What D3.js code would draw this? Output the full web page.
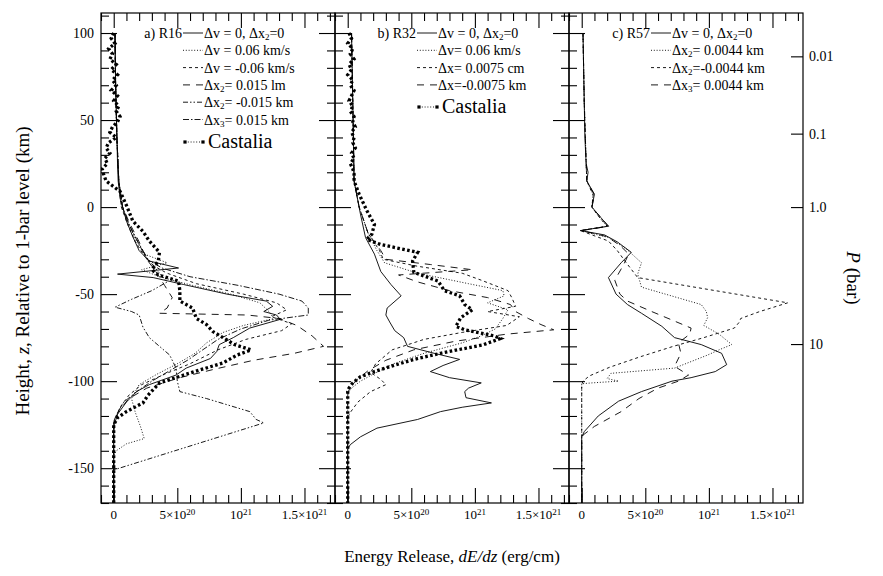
<!DOCTYPE html>
<html><head><meta charset="utf-8">
<script src="https://cdn.jsdelivr.net/npm/d3@7"></script>
<style>
body{margin:0;background:#fff}
svg text{font-family:"Liberation Serif","Times New Roman",Times,serif;fill:#000}
</style>
</head><body>
<svg id="c" width="883" height="576" font-family="Liberation Serif, Times New Roman, serif"></svg>
<script>
// ---------------- DATA (values: 10^20 erg/cm, heights: km) ----------------
// each point is [height z (km), dE/dz (1e20 erg/cm)]
const r16_base = [[100,0.1],[85,0.12],[70,0.15],[55,0.2],[40,0.25],[25,0.3],[15,0.35],[5,0.5],[0,0.7],[-8,1.0],[-17,1.5],[-25,2.0],[-31,2.8],[-35,5.1],[-38.5,0.3],[-40.5,3.1],[-44.5,5.5],[-50,8.9],[-54,12.0],[-57,12.5],[-60,11.8],[-62,12.8],[-64.5,13.1],[-69.5,10.7],[-75,9.4],[-79,8.3],[-83,8.1],[-87,7.6],[-92.5,5.7],[-96.5,4.9],[-102,2.8],[-106,1.8],[-112,1.0],[-119,0.3],[-125,0.05],[-130,0],[-170,0]];
const r16_dvPlus = [[100,0.1],[70,0.15],[40,0.25],[15,0.4],[0,0.6],[-10,1.2],[-20,1.8],[-27,2.4],[-32,4.2],[-36,2.2],[-40,3.6],[-45,6.2],[-50,9.2],[-55,11.5],[-60,12.2],[-64,12.6],[-68,10.2],[-72,8.6],[-78,7.3],[-84,6.4],[-90,5.0],[-96,3.4],[-102,2.0],[-110,1.4],[-118,1.7],[-126,2.1],[-133,2.4],[-136,1.0],[-140,0.2],[-143,0],[-170,0]];
const r16_dvMinus = [[100,0.1],[70,0.15],[40,0.25],[15,0.4],[0,0.6],[-10,1.1],[-20,1.7],[-28,2.4],[-34,3.2],[-38,4.2],[-44,6.5],[-50,10.2],[-55,12.8],[-59,13.6],[-63,12.4],[-67,14.0],[-71,13.2],[-76,10.4],[-82,8.2],[-90,6.0],[-96,4.0],[-102,2.2],[-108,1.2],[-115,0.5],[-122,0.1],[-127,0],[-170,0]];
const r16_dx2Plus = [[100,0.1],[70,0.15],[40,0.25],[15,0.4],[0,0.7],[-10,1.3],[-20,2.0],[-30,2.6],[-38,3.4],[-45,4.0],[-52,4.6],[-58,4.2],[-61,3.6],[-62,10.5],[-64,13.0],[-68,14.4],[-74,15.6],[-80,16.5],[-84,14.2],[-88,11.0],[-93,8.0],[-98,5.2],[-104,2.6],[-110,1.2],[-117,0.4],[-124,0],[-170,0]];
const r16_dx2Minus = [[100,0.1],[70,0.15],[40,0.25],[15,0.4],[0,0.7],[-10,1.2],[-20,1.9],[-30,2.7],[-38,3.6],[-43,4.2],[-48,3.0],[-53,1.4],[-57.5,0.1],[-60,1.4],[-62,2.0],[-69,2.3],[-75,2.8],[-85,4.4],[-92.5,4.9],[-100,5.0],[-106,5.2],[-110,7.3],[-117.5,10.7],[-122,11.2],[-124,11.8],[-151,0],[-170,0]];
const r16_dx3Plus = [[100,0.1],[70,0.15],[40,0.25],[15,0.4],[0,0.7],[-10,1.2],[-20,1.9],[-30,2.6],[-35,3.8],[-40,6.0],[-45,9.8],[-50,13.0],[-54,14.8],[-58,15.3],[-62,15.3],[-65,12.2],[-70,10.0],[-76,8.2],[-82,7.0],[-88,5.8],[-94,4.4],[-100,3.0],[-106,1.8],[-112,0.8],[-118,0.3],[-123,0],[-170,0]];
const r16_castalia = [[100,0.0],[97,-0.2],[94,0.1],[91,-0.4],[88,-0.1],[85,-0.3],[82,0.2],[79,-0.2],[76,0.3],[73,-0.1],[70,0.2],[67,-0.2],[64,0.3],[61,0.0],[58,0.4],[55,0.2],[52,0.5],[49,0.3],[46,-0.1],[43,-0.3],[40,0.2],[37,-0.4],[34,-0.6],[31,-0.3],[28,-0.7],[25,-0.5],[22,-0.9],[19,-0.8],[15,-0.6],[9,0.5],[1,1.0],[-8,1.5],[-14,2.3],[-19.5,2.8],[-26,3.6],[-31,3.5],[-36,3.0],[-39,3.5],[-42.5,5.1],[-48,5.2],[-54,5.2],[-58,6.2],[-64,6.5],[-67.5,7.3],[-71.5,7.8],[-75,8.6],[-79,9.5],[-82,10.8],[-85,9.7],[-89.5,8.6],[-93.5,6.8],[-96.5,5.5],[-101,3.6],[-108,2.7],[-112.5,2.3],[-117.5,1.0],[-121,0.3],[-125,0],[-170,0]];

const r32_base = [[100,0.3],[80,0.35],[60,0.4],[40,0.45],[15,0.5],[-4,1.0],[-17.5,1.4],[-27,2.1],[-37,2.6],[-44.5,3.4],[-51,4.2],[-58,3.1],[-62,3.0],[-66,3.3],[-71,3.7],[-75,4.4],[-80,4.7],[-84,6.8],[-87.5,8.8],[-91,7.5],[-94.5,6.5],[-98,8.0],[-101,10.5],[-104,9.5],[-106,9.2],[-109.5,9.3],[-112.5,11.3],[-115,9.0],[-117.5,7.3],[-122,5.5],[-127,2.3],[-132,1.0],[-136.5,0.2],[-139,0],[-170,0]];
const r32_dvPlus = [[100,0.3],[60,0.4],[15,0.5],[0,0.9],[-15,1.6],[-25,2.3],[-32,2.9],[-38,5.5],[-44,9.5],[-48,12.2],[-51,12.3],[-55,11.0],[-59,12.6],[-64,12.2],[-70,11.6],[-74,10.5],[-78,9.0],[-84,6.0],[-90,3.6],[-96,2.0],[-100,1.0],[-104,0.3],[-107,0],[-170,0]];
const r32_dxPlus = [[100,0.3],[60,0.4],[15,0.5],[0,0.9],[-15,1.6],[-25,2.5],[-30,2.8],[-34,5.5],[-38,9.0],[-42,10.5],[-48,12.6],[-52,12.9],[-57,13.2],[-60,11.0],[-63,13.5],[-68,12.5],[-72,9.0],[-76,6.0],[-82,3.5],[-90,2.2],[-95,1.8],[-99,2.6],[-102,3.0],[-106,1.8],[-112,0.8],[-118,0.2],[-121,0],[-170,0]];
const r32_dxMinus = [[100,0.3],[60,0.4],[15,0.5],[0,0.9],[-15,1.6],[-25,2.6],[-30,3.0],[-33,6.5],[-36,9.8],[-39,4.0],[-43,5.5],[-48,8.0],[-52,11.0],[-56,12.8],[-60,13.2],[-64,14.2],[-67.5,15.2],[-70.5,16.2],[-73,12.5],[-77,8.5],[-82,5.2],[-88,3.0],[-94,1.6],[-100,0.6],[-105,0.1],[-108,0],[-170,0]];
const r32_castalia = [[100,0.1],[97,0.3],[94,0.0],[91,0.4],[88,0.2],[85,0.5],[82,0.1],[79,0.3],[76,0.0],[73,0.4],[70,0.2],[67,0.5],[64,0.3],[61,0.1],[58,0.4],[55,0.2],[52,0.5],[49,0.4],[46,0.6],[43,0.3],[40,0.5],[37,0.4],[34,0.6],[31,0.3],[28,0.5],[25,0.2],[22,0.4],[19,0.5],[15,0.5],[7.4,0.9],[-2,1.5],[-10,2.1],[-15.5,1.9],[-18.5,1.5],[-21.5,2.6],[-26,5.5],[-31,5.1],[-37.5,5.2],[-42.5,7.1],[-48,7.6],[-51,8.8],[-56,9.2],[-59,9.8],[-63.5,8.9],[-68.5,8.5],[-70.5,9.2],[-74,11.5],[-75.5,12.0],[-79,10.7],[-84,7.3],[-87.5,5.2],[-91.5,3.4],[-94.5,2.1],[-97.5,1.0],[-101,0.4],[-104,0.1],[-106,0],[-170,0]];

const r57_base = [[100,0.1],[80,0.15],[60,0.2],[40,0.25],[25,0.35],[20,0.5],[15,0.4],[7.4,1.0],[0,0.8],[-6,1.5],[-11,2.1],[-13.5,-0.1],[-16,1.8],[-20,2.8],[-26,3.9],[-32,3.1],[-40.5,2.1],[-50,2.7],[-56,3.6],[-61,4.7],[-68.5,6.3],[-75,7.3],[-79,9.4],[-84,11.0],[-90.5,11.4],[-94.5,10.5],[-98,8.6],[-100,7.1],[-106,4.7],[-111.5,2.9],[-120,1.3],[-129,0.2],[-132,0],[-170,0]];
const r57_dx2Plus = [[100,0.1],[60,0.2],[25,0.35],[15,0.4],[7,0.9],[0,0.8],[-6,1.4],[-11,2.0],[-13.5,-0.1],[-17.5,2.1],[-24,3.5],[-32,4.7],[-38.5,4.4],[-46,4.7],[-56,9.4],[-60,9.8],[-63.5,9.9],[-68,9.6],[-73,10.8],[-79,11.8],[-82,10.8],[-85,9.9],[-92.5,7.3],[-95.5,2.3],[-98.5,2.0],[-100,2.9],[-101,0.8],[-101.5,0],[-170,0]];
const r57_dx2Minus = [[100,0.1],[60,0.2],[25,0.35],[15,0.4],[7,0.9],[0,0.8],[-6,1.4],[-11,2.0],[-13.5,-0.1],[-19.5,2.1],[-25,2.8],[-31,3.4],[-40.5,4.4],[-55,16.2],[-60,14.0],[-64,12.5],[-66,12.4],[-69.5,12.0],[-75,9.6],[-80,7.2],[-86,4.6],[-92,2.2],[-97,0.6],[-100,0.1],[-102,0],[-170,0]];
const r57_dx3Plus = [[100,0.1],[60,0.2],[25,0.35],[15,0.4],[7,1.0],[0,0.8],[-6,1.5],[-11,2.1],[-13.5,0.0],[-17,2.0],[-22,3.0],[-27,3.7],[-33,3.3],[-42,2.6],[-50,3.0],[-54,3.6],[-60,5.5],[-65.5,7.3],[-69.5,8.6],[-73,8.5],[-78,7.6],[-84,7.8],[-91.5,7.3],[-96.5,8.4],[-100,7.6],[-104,6.0],[-110,4.5],[-117.5,3.1],[-126,1.0],[-131,0.1],[-133,0],[-170,0]];

// panel titles and legend labels ("_" = next char subscript)
const panelTitles = ["a) R16","b) R32","c) R57"];
const panelA_labels = ["Δv = 0, Δx_2=0","Δv = 0.06 km/s","Δv = -0.06 km/s","Δx_2= 0.015 lm","Δx_2= -0.015 km","Δx_3= 0.015 km","Castalia"];
const panelB_labels = ["Δv = 0, Δx_2=0","Δv= 0.06 km/s","Δx= 0.0075 cm","Δx=-0.0075 km","Castalia"];
const panelC_labels = ["Δv = 0, Δx_2=0","Δx_2= 0.0044 km","Δx_2=-0.0044 km","Δx_3= 0.0044 km"];
const panelA_styles = ["solid","dotted","shortdash","longdash","dashdotdot","dashdot","castalia"];
const panelB_styles = ["solid","dotted","shortdash","longdash","castalia"];
const panelC_styles = ["solid","dotted","shortdash","longdash"];

// axis ticks
const xMajorTicks = [0,5,10,15];
const xTickLabels = ["0","5×10^20","10^21","1.5×10^21"];
const xMinorTicks = [-1,1,2,3,4,6,7,8,9,11,12,13,14,16,17];
const zMajorTicks = [-150,-100,-50,0,50,100];
const zMinorTicks = [-170,-160,-140,-130,-120,-110,-90,-80,-70,-60,-40,-30,-20,-10,10,20,30,40,60,70,80,90,110];
const pressureLabels = ["0.01","0.1","1.0","10"];
const pressureHeights = [86.6, 42.2, 0, -78.7];

const xDomain = [-1, 17.4];
const zDomain = [-170, 111.5];

// ---------------- DRAWING ----------------
const panels = [
  {series:[r16_base,r16_dvPlus,r16_dvMinus,r16_dx2Plus,r16_dx2Minus,r16_dx3Plus,r16_castalia], labels:panelA_labels, styles:panelA_styles},
  {series:[r32_base,r32_dvPlus,r32_dxPlus,r32_dxMinus,r32_castalia], labels:panelB_labels, styles:panelB_styles},
  {series:[r57_base,r57_dx2Plus,r57_dx2Minus,r57_dx3Plus], labels:panelC_labels, styles:panelC_styles}
];
const dash = {solid:null, dotted:"1,1.8", shortdash:"3,3", longdash:"7,6", dashdot:"6,2,1.5,2", dashdotdot:"5,2,1.5,2,1.5,2", castalia:"2.6,2.4"};

const svg = d3.select("#c");
const panelLeft = [101,335,569], panelW = 234, topY = 13, botY = 503;
const x = d3.scaleLinear().domain(xDomain).range([0,panelW]);
const y = d3.scaleLinear().domain(zDomain).range([botY, topY]);
const line = d3.line().x(d=>x(d[1])).y(d=>y(d[0]));

function richText(sel, str, subSize){
  let i=0; let buf="";
  const flush=()=>{ if(buf){ sel.append("tspan").text(buf); buf=""; } };
  while(i<str.length){
    const c=str[i];
    if(c==="_"){ flush(); sel.append("tspan").attr("baseline-shift","-25%").attr("font-size",subSize).text(str[i+1]); i+=2; continue; }
    if(c==="^"){ flush(); sel.append("tspan").attr("baseline-shift","45%").attr("font-size",subSize).text(str.slice(i+1)); i=str.length; continue; }
    buf+=c; i++;
  }
  flush();
}

svg.append("defs").append("clipPath").attr("id","clip").append("rect")
  .attr("x",0).attr("y",topY).attr("width",panelW).attr("height",botY-topY);

panels.forEach((p,pi)=>{
  const g = svg.append("g").attr("transform",`translate(${panelLeft[pi]},0)`);
  const plot = g.append("g").attr("clip-path","url(#clip)");
  p.series.forEach((s,si)=>{
    const st = p.styles[si];
    plot.append("path").datum(s).attr("d",line).attr("fill","none")
      .attr("stroke","#000")
      .attr("stroke-width", st==="castalia"?3.3:0.9)
      .attr("stroke-dasharray", dash[st]);
  });
  const tickAxis = (axis, tr)=>{ const a=g.append("g").attr("transform",tr).call(axis);
    a.select(".domain").remove(); a.selectAll(".tick line").attr("stroke","#000").attr("stroke-width",1.1); a.selectAll("text").remove(); return a; };
  tickAxis(d3.axisBottom(x).tickValues(xMajorTicks).tickSize(-15), `translate(0,${botY})`);
  tickAxis(d3.axisBottom(x).tickValues(xMinorTicks).tickSize(-8), `translate(0,${botY})`);
  tickAxis(d3.axisTop(x).tickValues(xMajorTicks).tickSize(-15), `translate(0,${topY})`);
  tickAxis(d3.axisTop(x).tickValues(xMinorTicks).tickSize(-8), `translate(0,${topY})`);
  tickAxis(d3.axisLeft(y).tickValues(zMajorTicks).tickSize(-16), `translate(0,0)`);
  tickAxis(d3.axisLeft(y).tickValues(zMinorTicks).tickSize(-8), `translate(0,0)`);
  if(pi<2){
    tickAxis(d3.axisRight(y).tickValues(zMajorTicks).tickSize(-16), `translate(${panelW},0)`);
    tickAxis(d3.axisRight(y).tickValues(zMinorTicks).tickSize(-8), `translate(${panelW},0)`);
  } else {
    tickAxis(d3.axisRight(y).tickValues(pressureHeights).tickSize(-12), `translate(${panelW},0)`);
    pressureLabels.forEach((lab,k)=>{
      g.append("text").attr("x",panelW+6).attr("y",y(pressureHeights[k])+5)
        .attr("font-size",14).text(lab);
    });
  }
  g.append("rect").attr("x",0).attr("y",topY).attr("width",panelW).attr("height",botY-topY)
    .attr("fill","none").attr("stroke","#000").attr("stroke-width",1.2);
  xMajorTicks.forEach((v,k)=>{
    const t = g.append("text").attr("x",x(v)).attr("y",botY+16).attr("text-anchor","middle").attr("font-size",13);
    richText(t, xTickLabels[k], 9);
  });
  const lx = 82, lw = 20;
  g.append("text").attr("x",lx-1).attr("y",33+5).attr("text-anchor","end").attr("font-size",14).text(panelTitles[pi]);
  p.labels.forEach((lab,k)=>{
    const st = p.styles[k];
    const isCast = st==="castalia";
    const ly = isCast ? (pi===0?142:107) : 33 + k*17.3;
    if(isCast){
      g.append("line").attr("x1",lx+2).attr("x2",lx+lw).attr("y1",ly).attr("y2",ly)
        .attr("stroke","#000").attr("stroke-width",0.9).attr("stroke-dasharray","1,1.8");
      [lx+2, lx+lw].forEach(cx=> g.append("rect").attr("x",cx-1.6).attr("y",ly-1.6).attr("width",3.2).attr("height",3.2).attr("fill","#000"));
      g.append("text").attr("x",lx+lw+5).attr("y",ly+6).attr("font-size",20).text(lab);
    } else {
      g.append("line").attr("x1",lx).attr("x2",lx+lw).attr("y1",ly).attr("y2",ly)
        .attr("stroke","#000").attr("stroke-width",0.9).attr("stroke-dasharray",dash[st]);
      const t = g.append("text").attr("x",lx+lw+1).attr("y",ly+5).attr("font-size",14);
      richText(t, lab, 9);
    }
  });
});

zMajorTicks.forEach(v=>{
  svg.append("text").attr("x",panelLeft[0]-7).attr("y",y(v)+5).attr("text-anchor","end").attr("font-size",14).text(v);
});

const yt = svg.append("text").attr("transform","translate(29,271) rotate(-90)").attr("text-anchor","middle").attr("font-size",19);
yt.append("tspan").text("Height, ");
yt.append("tspan").attr("font-style","italic").text("z");
yt.append("tspan").text(", Relative to 1-bar level (km)");

const xt = svg.append("text").attr("x",452).attr("y",562).attr("text-anchor","middle").attr("font-size",17);
xt.append("tspan").text("Energy Release, ");
xt.append("tspan").attr("font-style","italic").text("dE/dz");
xt.append("tspan").text(" (erg/cm)");

const pt = svg.append("text").attr("transform","translate(847,278) rotate(90)").attr("text-anchor","middle").attr("font-size",19);
pt.append("tspan").attr("font-style","italic").text("P");
pt.append("tspan").text(" (bar)");
</script>
</body></html>
